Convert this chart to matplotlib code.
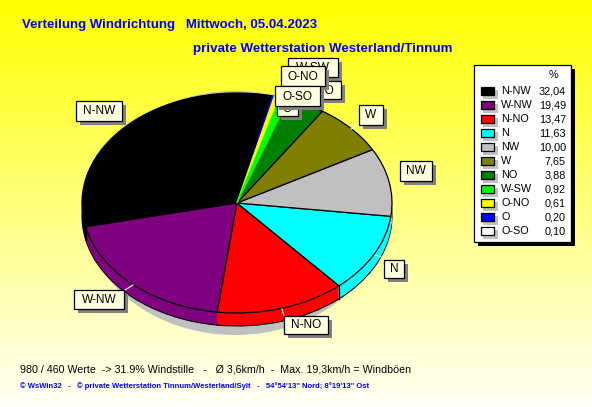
import numpy as np
import matplotlib
matplotlib.use("Agg")
import matplotlib.pyplot as plt
from matplotlib.patches import Rectangle, Ellipse

names = ["N-NW", "W-NW", "N-NO", "N", "NW", "W", "NO", "W-SW", "O-NO", "O", "O-SO"]
values = [32.04, 19.49, 13.47, 11.63, 10.00, 7.65, 3.88, 0.92, 0.61, 0.20, 0.10]
value_labels = ["32,04", "19,49", "13,47", "11,63", "10,00", "7,65", "3,88", "0,92", "0,61", "0,20", "0,10"]
colors = ["#000000", "#800080", "#FF0000", "#00FFFF", "#C0C0C0", "#808000",
          "#008000", "#00FF00", "#FFFF00", "#0000FF", "#FFFFFF"]

W, H = 592, 407
plt.rcParams["font.family"] = ["Liberation Sans", "DejaVu Sans"]
fig = plt.figure(figsize=(W / 100, H / 100), dpi=100)

# background gradient
bg = fig.add_axes([0, 0, 1, 1], zorder=0)
grad = np.zeros((H, 1, 3))
grad[..., 0] = 1
grad[..., 1] = 1
grad[:, 0, 2] = np.linspace(0, 0.97, H)
bg.imshow(grad, aspect="auto", extent=(0, W, H, 0), interpolation="bilinear")
bg.set_xlim(0, W)
bg.set_ylim(H, 0)
bg.axis("off")

# drop shadow under the pie
cx, cy, rx, ry, depth = 237, 203, 155, 110, 13
bg.add_patch(Ellipse((235, 213), 300, 244, fc="#C0C0C0", ec="none"))

# pie: unit circle stretched into the ellipse by the axes box
pie = fig.add_axes([(cx - rx) / W, 1 - (cy + ry) / H, 2 * rx / W, 2 * ry / H], zorder=1)
start = 192.5 - 360 * values[0] / sum(values)
for d in range(depth, 0, -1):
    edge = "black" if d == depth else "none"
    pie.pie(values, colors=colors, startangle=start, center=(0, -d / ry), radius=1,
            wedgeprops=dict(edgecolor=edge, linewidth=0.8), frame=False)
top, _ = pie.pie(values, colors=colors, startangle=start, center=(0, 0), radius=1,
                 wedgeprops=dict(edgecolor="black", linewidth=0.9), frame=False)
# very thin slices keep their own colour instead of vanishing under the outline
for w, v, c in zip(top, values, colors):
    if v < 1 and c != "#FFFFFF":
        w.set_edgecolor(c)
        w.set_linewidth(0.9)
        w.set_zorder(5 + v)
cum = start + 360 * np.cumsum(values) / sum(values)
for a in cum:
    s = np.sin(np.radians(a))
    if s < -0.2:
        x = np.cos(np.radians(a))
        pie.plot([x, x], [s, s - depth / ry], color="black", lw=0.9)
pie.set_aspect("auto")
pie.set_xlim(-1, 1)
pie.set_ylim(-1, 1)
pie.patch.set_alpha(0)
pie.axis("off")

# overlay in pixel coordinates
ov = fig.add_axes([0, 0, 1, 1], zorder=2)
ov.set_xlim(0, W)
ov.set_ylim(H, 0)
ov.axis("off")
ov.patch.set_alpha(0)

def rect(x0, y0, x1, y1, fc, ec="none", lw=0.9, z=3):
    ov.add_patch(Rectangle((x0, y0), x1 - x0, y1 - y0, fc=fc, ec=ec, lw=lw, zorder=z))

# titles and footer
BLUE = "#0000FF"
ov.text(22, 25, "Verteilung Windrichtung   Mittwoch, 05.04.2023", color=BLUE, fontsize=9.55,
        fontweight="bold", va="center")
ov.text(193, 49, "private Wetterstation Westerland/Tinnum", color=BLUE, fontsize=9.6,
        fontweight="bold", va="center")
ov.text(20, 369, "980 / 460 Werte  -> 31.9% Windstille   -   Ø 3,6km/h  -  Max. 19,3km/h = Windböen",
        color="black", fontsize=7.7, va="center")
ov.text(20, 386, "© WsWin32   -   © private Wetterstation Tinnum/Westerland/Sylt   -   54°54'13\" Nord; 8°19'13\" Ost",
        color=BLUE, fontsize=5.5, fontweight="bold", va="center")

# slice labels: (text, box, leader)
label_names = ["W-SW", "NO", "O-NO", "O", "O-SO", "W", "NW", "N", "N-NO", "W-NW", "N-NW"]
label_boxes = [(288, 58, 338, 77), (309, 81, 341, 99), (281, 66, 325, 86), (277, 100, 298, 116),
               (275, 86, 320, 106), (359, 105, 383, 125), (400, 161, 432, 181),
               (384, 260, 404, 278), (284, 316, 328, 334), (74, 290, 124, 309), (76, 101, 122, 121)]
label_zorder = [3, 3, 4, 4, 5, 3, 3, 3, 3, 3, 3]
leaders = [None, None, None, None, None, ((358, 125), (351, 129)), None,
           ((375, 255), (381, 257)), ((282, 309), (284, 316)), ((133, 285), (125, 290)), None]
for t, (x0, y0, x1, y1), z, l in zip(label_names, label_boxes, label_zorder, leaders):
    if l:
        ov.plot([l[0][0], l[1][0]], [l[0][1], l[1][1]], color="white", lw=0.8, zorder=2)
    rect(x0 + 4, y0 + 4, x1 + 4, y1 + 4, "#808080", z=z)
    rect(x0, y0, x1, y1, "#FFFFE0", "black", z=z)
    ov.text((x0 + x1) / 2, (y0 + y1) / 2 + 0.5, t, fontsize=8.6, color="black",
            ha="center", va="center", zorder=z)

# legend
rect(478, 69, 575, 246, "black", z=3)
rect(474, 65, 571, 242, "white", "black", z=3)
ov.text(553, 75, "%", fontsize=7.8, ha="center", va="center", zorder=4)
rows = 91 + 14 * np.arange(len(names))
for y, n, v, c in zip(rows, names, value_labels, colors):
    rect(483, y - 1, 498, y + 8, "#C0C0C0", z=4)
    rect(481, y - 4, 494, y + 4, c, "black", z=5)
    ov.text(501, y, n, fontsize=7.8, va="center", zorder=5)
    ov.text(566, y, v, fontsize=7.8, va="center", ha="right", zorder=5)

fig.savefig("out.png", dpi=100)
